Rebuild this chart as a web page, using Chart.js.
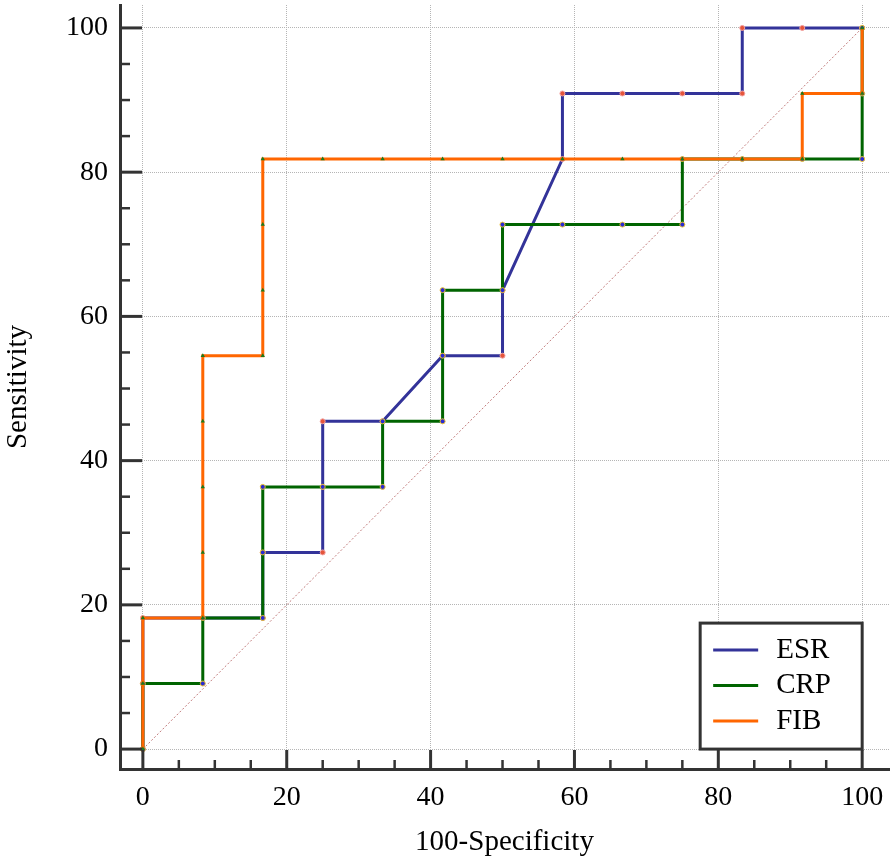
<!DOCTYPE html>
<html>
<head>
<meta charset="utf-8">
<script src="https://cdn.jsdelivr.net/npm/chart.js@4.4.1/dist/chart.umd.min.js"></script>
<style>
  html, body { margin: 0; padding: 0; background: #fff; }
</style>
</head>
<body>
<canvas id="roc" width="894" height="862"></canvas>
<script>
(function () {
  "use strict";

  // ROC points (100-Specificity, Sensitivity)
  var esrX = [0, 0, 0, 8.33, 16.67, 16.67, 25, 25, 25, 33.33, 41.67, 50, 50, 58.33, 58.33, 66.67, 75, 83.33, 83.33, 91.67, 100];
  var esrY = [0, 9.09, 18.18, 18.18, 18.18, 27.27, 27.27, 36.36, 45.45, 45.45, 54.55, 54.55, 63.64, 81.82, 90.91, 90.91, 90.91, 90.91, 100, 100, 100];

  var crpX = [0, 0, 8.33, 8.33, 16.67, 16.67, 16.67, 25, 33.33, 33.33, 41.67, 41.67, 41.67, 50, 50, 58.33, 66.67, 75, 75, 83.33, 91.67, 100, 100, 100];
  var crpY = [0, 9.09, 9.09, 18.18, 18.18, 27.27, 36.36, 36.36, 36.36, 45.45, 45.45, 54.55, 63.64, 63.64, 72.73, 72.73, 72.73, 72.73, 81.82, 81.82, 81.82, 81.82, 90.91, 100];

  var fibX = [0, 0, 0, 8.33, 8.33, 8.33, 8.33, 8.33, 16.67, 16.67, 16.67, 16.67, 25, 33.33, 41.67, 50, 58.33, 66.67, 75, 83.33, 91.67, 91.67, 100, 100];
  var fibY = [0, 9.09, 18.18, 18.18, 27.27, 36.36, 45.45, 54.55, 54.55, 63.64, 72.73, 81.82, 81.82, 81.82, 81.82, 81.82, 81.82, 81.82, 81.82, 81.82, 81.82, 90.91, 90.91, 100];

  var refX = [0, 100];
  var refY = [0, 100];

  var seriesNames = ["ESR", "CRP", "FIB"];
  var majorTicks = [0, 20, 40, 60, 80, 100];
  var minorStep = 5;

  var AXIS_COLOR = "#333333";
  var FONT = "'Liberation Serif', 'Times New Roman', serif";

  function points(xs, ys) {
    return xs.map(function (x, i) { return { x: x, y: ys[i] }; });
  }

  var insideTicks = {
    id: "insideTicks",
    afterDraw: function (chart) {
      var ctx = chart.ctx;
      var xs = chart.scales.x;
      var ys = chart.scales.y;
      var left = chart.chartArea.left;
      var bottom = chart.chartArea.bottom;
      ctx.save();
      ctx.strokeStyle = AXIS_COLOR;
      for (var v = majorTicks[0]; v <= majorTicks[majorTicks.length - 1]; v += minorStep) {
        var major = majorTicks.indexOf(v) !== -1;
        ctx.lineWidth = major ? 3 : 2.5;
        var py = ys.getPixelForValue(v);
        ctx.beginPath();
        ctx.moveTo(left, py);
        ctx.lineTo(left + (major ? 22 : 10), py);
        ctx.stroke();
        var px = xs.getPixelForValue(v);
        ctx.beginPath();
        ctx.moveTo(px, bottom);
        ctx.lineTo(px, bottom - (major ? 19 : 9));
        ctx.stroke();
      }
      ctx.restore();
    }
  };

  var boxLegend = {
    id: "boxLegend",
    afterDraw: function (chart) {
      var ctx = chart.ctx;
      var right = chart.scales.x.getPixelForValue(100);
      var bottom = chart.scales.y.getPixelForValue(0);
      var w = 162, h = 126;
      var left = right - w, top = bottom - h;
      ctx.save();
      ctx.fillStyle = "#ffffff";
      ctx.fillRect(left, top, w, h);
      ctx.lineWidth = 3;
      ctx.strokeStyle = AXIS_COLOR;
      ctx.strokeRect(left, top, w, h);
      ctx.font = "29px " + FONT;
      ctx.textBaseline = "middle";
      ctx.textAlign = "left";
      seriesNames.forEach(function (name, i) {
        var ds = chart.data.datasets.filter(function (d) { return d.label === name; })[0];
        var y = top + 27 + i * 35.5;
        ctx.strokeStyle = ds.borderColor;
        ctx.lineWidth = 3;
        ctx.beginPath();
        ctx.moveTo(left + 13, y);
        ctx.lineTo(left + 58, y);
        ctx.stroke();
        ctx.fillStyle = "#000000";
        ctx.fillText(name, left + 76, y);
      });
      ctx.restore();
    }
  };

  function setTicks(scale) {
    scale.ticks = majorTicks.map(function (v) { return { value: v }; });
  }

  // the axes run past the end labels, so drop the label overhang padding
  function noOverhang(scale) {
    scale.paddingTop = 0;
    scale.paddingBottom = 0;
    scale.paddingLeft = 0;
    scale.paddingRight = 0;
  }

  document.addEventListener("DOMContentLoaded", function () {
    Chart.defaults.font.family = FONT;
    Chart.defaults.color = "#000000";

    new Chart(document.getElementById("roc"), {
      type: "scatter",
      data: {
        datasets: [
          {
            label: "ref",
            data: points(refX, refY),
            showLine: true,
            borderColor: "#c07a7a",
            borderWidth: 1,
            borderDash: [2, 2],
            pointRadius: 0,
            order: 4
          },
          {
            label: "ESR",
            data: points(esrX, esrY),
            showLine: true,
            borderColor: "#333399",
            borderWidth: 3,
            pointRadius: 2.5,
            pointBackgroundColor: "#e5553a",
            pointBorderColor: "#f2a0a0",
            pointBorderWidth: 1,
            order: 3
          },
          {
            label: "CRP",
            data: points(crpX, crpY),
            showLine: true,
            borderColor: "#006400",
            borderWidth: 3,
            pointRadius: 2.5,
            pointBackgroundColor: "#2a2ad0",
            pointBorderColor: "#e8c030",
            pointBorderWidth: 1,
            order: 2
          },
          {
            label: "FIB",
            data: points(fibX, fibY),
            showLine: true,
            borderColor: "#ff6600",
            borderWidth: 3,
            pointRadius: 2.5,
            pointStyle: "triangle",
            pointBackgroundColor: "#1a7a1a",
            pointBorderColor: "#1a7a1a",
            pointBorderWidth: 0,
            order: 1
          }
        ]
      },
      options: {
        responsive: false,
        animation: false,
        layout: { padding: { top: 2, right: 0, bottom: 0, left: 0 } },
        plugins: { legend: { display: false }, tooltip: { enabled: false } },
        scales: {
          x: {
            type: "linear",
            min: -3.18,
            max: 103.73,
            afterBuildTicks: setTicks,
            afterFit: function (scale) { scale.height = 93; noOverhang(scale); },
            grid: { color: "#b5b5b5", lineWidth: 1, drawTicks: false },
            border: { color: AXIS_COLOR, width: 3, dash: [1, 1] },
            ticks: { font: { size: 28 }, padding: 12, maxRotation: 0 },
            title: {
              display: true,
              text: "100-Specificity",
              font: { size: 29 },
              padding: { top: 0, bottom: 2 }
            }
          },
          y: {
            type: "linear",
            min: -2.76,
            max: 103.18,
            afterBuildTicks: setTicks,
            afterFit: function (scale) { scale.width = 120; noOverhang(scale); },
            grid: { color: "#b5b5b5", lineWidth: 1, drawTicks: false },
            border: { color: AXIS_COLOR, width: 3, dash: [1, 1] },
            ticks: { font: { size: 28 }, padding: 12 },
            title: {
              display: true,
              text: "Sensitivity",
              font: { size: 29 },
              padding: { top: 1, bottom: 0 }
            }
          }
        }
      },
      plugins: [insideTicks, boxLegend]
    });
  });
})();
</script>
</body>
</html>
